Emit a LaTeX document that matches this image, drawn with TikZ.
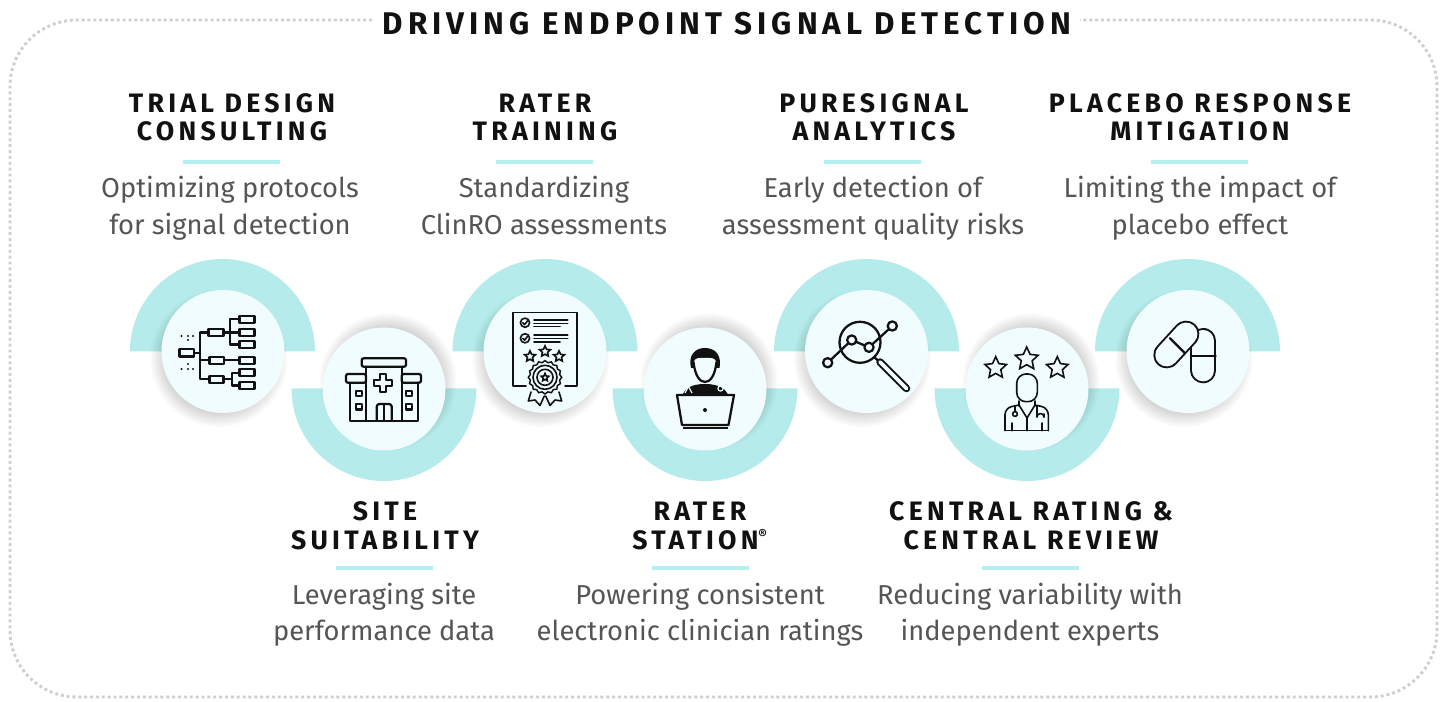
\documentclass[tikz,border=0pt]{standalone}
\usepackage{fontspec}
\usetikzlibrary{shapes.geometric}
\setmainfont{Fira Sans}
\newfontfamily\headf[LetterSpace=16]{Fira Sans}
\newfontfamily\titlef[LetterSpace=16]{Fira Sans}
\definecolor{ring}{HTML}{B5ECEB}
\definecolor{rulec}{HTML}{B5F0F0}
\definecolor{disc}{HTML}{F0FCFD}
\definecolor{bodygray}{HTML}{555555}
\definecolor{dotgray}{HTML}{CFCFCF}
\definecolor{ink}{HTML}{111111}
\tikzset{
  x=0.75pt,y=-0.75pt,
  heading/.style={font=\headf\bfseries\fontsize{20pt}{20.25pt}\selectfont,text=ink,align=center,inner sep=0pt},
  bodytext/.style={font=\fontsize{20.5pt}{27.5pt}\selectfont,text=bodygray,align=center,inner sep=0pt},
  titletext/.style={font=\titlef\bfseries\fontsize{23.5pt}{24pt}\selectfont,text=ink,inner sep=0pt},
  rulebar/.style={draw=rulec,line width=2.4pt},
  discnode/.style={circle,fill=disc,minimum size=92.25pt,inner sep=0pt},
  ico/.style={draw=ink,line width=1.7pt,line join=round,line cap=round},
  icothin/.style={draw=ink,line width=1.2pt,line join=round,line cap=round},
  starico/.style={star,star points=5,star point ratio=2.1,draw=ink,line width=1.2pt,inner sep=0pt},
  frame/.style={draw=dotgray,line width=2.2pt,dash pattern=on 2.2pt off 2.2pt}
}
\newcommand{\softshadow}[4]{%
  \foreach \r in {76,74,...,58}{\fill[black,opacity=0.018] (#1+#3,#2+#4) circle[radius=\r*0.9];}}
\newcommand{\block}[9]{% name, hx, hy, heading, rulex, rule y, bx, by, text
  \node[heading] (#1h) at (#2,#3) {#4};
  \coordinate (#1ra) at (#5-48.5,#6);
  \coordinate (#1rb) at (#5+48.5,#6);
  \draw[rulebar] (#1ra) -- (#1rb);
  \node[bodytext] (#1b) at (#7,#8) {#9};}
\begin{document}
\begin{tikzpicture}
\useasboundingbox (0,0) rectangle (1447,702);
\fill[white] (0,0) rectangle (1447,702);
% frame
\coordinate (fl) at (372,20);
\coordinate (fr) at (1080,20);
\draw[frame,rounded corners=50pt] (fl) -- (10,20) -- (10,697) -- (1437,697) -- (1437,20) -- (fr);
\node[titletext] (title) at (727,24) {DRIVING ENDPOINT SIGNAL DETECTION};
% rings
\foreach \c in {222.5,545,866.5,1187.5}{
  \fill[ring] (\c-92.5,351.5) arc[start angle=180,end angle=360,radius=92.5] -- cycle;}
\foreach \c in {384,705,1027}{
  \fill[ring] (\c-92.5,388.5) arc[start angle=180,end angle=0,radius=92.5] -- cycle;}
% discs
\foreach \c in {223,545,866.5,1188}{\softshadow{\c}{351.5}{-4}{7}}
\foreach \c in {384,705,1027}{\softshadow{\c}{389}{4}{-7}}
\node[discnode] (d1) at (223,351.5) {};
\node[discnode] (d2) at (384,389) {};
\node[discnode] (d3) at (545,351.5) {};
\node[discnode] (d4) at (705,389) {};
\node[discnode] (d5) at (866.5,351.5) {};
\node[discnode] (d6) at (1027,389) {};
\node[discnode] (d7) at (1188,351.5) {};
% text
\block{a}{232}{121}{\strut TRIAL DESIGN\\\strut CONSULTING}{231}{162}{230}{208.5}{\strut Optimizing protocols\\\strut for signal detection}
\block{b}{545}{121}{\strut RATER\\\strut TRAINING}{544}{162}{544}{208.5}{\strut Standardizing\\\strut ClinRO assessments}
\block{c}{874}{121}{\strut PURESIGNAL\\\strut ANALYTICS}{872}{162}{873}{208.5}{\strut Early detection of\\\strut assessment quality risks}
\block{d}{1200}{121}{\strut PLACEBO RESPONSE\\\strut MITIGATION}{1199}{162}{1200}{208.5}{\strut Limiting the impact of\\\strut placebo effect}
\block{e}{385}{529.5}{\strut SITE\\\strut SUITABILITY}{384}{568}{384}{615}{\strut Leveraging site\\\strut performance data}
\block{f}{700}{529.5}{\strut RATER\\\strut STATION\smash{\textsuperscript{\fontsize{10pt}{10pt}\selectfont ®}}}{700}{568}{700}{615}{\strut Powering consistent\\\strut electronic clinician ratings}
\block{g}{1031}{529.5}{\strut CENTRAL RATING \&\\\strut CENTRAL REVIEW}{1030}{568}{1030}{615}{\strut Reducing variability with\\\strut independent experts}
% icon 1: tree
\begin{scope}[ico]
\foreach \a/\b/\cc/\dd in {179.5/349/194/356.5,208.5/329/223.5/336,209.5/356.7/224/364,209.5/375.7/223.5/382.7,
  239.5/315.7/254.5/322.7,239.5/329/254.5/336,239.5/341/254.5/348.3,239.5/356.7/254.5/364,239.5/369.3/254.5/376.3,239.5/382/254.5/389.3}
  {\draw (\a,\b) rectangle (\cc,\dd);}
\draw (194,353) -- (200,353);
\draw (208.5,332.5) -- (200,332.5) -- (200,379.2) -- (209.5,379.2);
\draw (200,360.3) -- (209.5,360.3);
\draw (224,360.3) -- (239.5,360.3);
\draw (239.5,319.2) -- (230,319.2) -- (230,344.6) -- (239.5,344.6);
\draw (223.5,332.5) -- (239.5,332.5);
\draw (223.5,379.2) -- (232,379.2);
\draw (239.5,372.8) -- (232,372.8) -- (232,385.6) -- (239.5,385.6);
\end{scope}
\foreach \p/\q in {181.5/336,188/336,193/336,188/340,181.5/369,188/369,193/369,188/364}
  {\fill[ink] (\p,\q) circle[radius=1.2];}
% icon 2: hospital
\begin{scope}[ico]
\draw[rounded corners=1.5pt] (361.7,358.3) rectangle (406,366.7);
\draw[rounded corners=1.5pt] (346,374) rectangle (366,382.7);
\draw[rounded corners=1.5pt] (401.7,374) rectangle (421,382.7);
\draw (366,366.7) -- (366,420.7);
\draw (401.7,366.7) -- (401.7,420.7);
\draw (350,382.7) -- (350,420.7) -- (417.7,420.7) -- (417.7,382.7);
\foreach \u/\v in {356/390.7,356/404,406/390.7,406/404}{\draw (\u,\v) rectangle (\u+5.7,\v+5.4);}
\draw[rounded corners=2pt] (376.7,420.7) -- (376.7,404) -- (391.7,404) -- (391.7,420.7);
\draw (384,404) -- (384,420.7);
\draw (380.3,374.3) -- (386.3,374.3) -- (386.3,380.3) -- (392.3,380.3) -- (392.3,386.3) -- (386.3,386.3) -- (386.3,392.3) -- (380.3,392.3) -- (380.3,386.3) -- (374.3,386.3) -- (374.3,380.3) -- (380.3,380.3) -- cycle;
\end{scope}
% icon 3: certificate
\begin{scope}[icothin]
\draw (526,386) -- (512.7,386) -- (512.7,312.7) -- (576.7,312.7) -- (576.7,386) -- (565,386);
\draw (525,322.7) circle[radius=4.6];
\draw (525,338.3) circle[radius=4.6];
\draw (522.8,322.8) -- (524.6,324.6) -- (527.5,320.8);
\draw (522.8,338.4) -- (524.6,340.2) -- (527.5,336.4);
\foreach \yy/\xe in {320.3/567.7,323.5/567.7,326.7/560,335.3/567.7,338.7/567.7,342/560}{\draw (534,\yy) -- (\xe,\yy);}
\draw (531,392) -- (528.3,401) -- (535,400) -- (540,405.5) -- (544.3,396);
\draw (559,392) -- (561.7,401) -- (555,400) -- (550,405.5) -- (545.7,396);
\draw (545,377.3) circle[radius=12];
\draw (545,377.3) circle[radius=8];
\end{scope}
\node[starico,minimum size=8.5pt] (s1) at (530,356.5) {};
\node[starico,minimum size=8.5pt] (s2) at (545,351.5) {};
\node[starico,minimum size=8.5pt] (s3) at (559,356.5) {};
\node[starico,minimum size=6pt] (s4) at (545,377.5) {};
\node[star,star points=16,star point ratio=1.12,draw=ink,line width=1.1pt,minimum size=25pt,inner sep=0pt] (ros) at (545,377.3) {};
% icon 4: person at laptop
\fill[ink] (682,397) .. controls (684,388) and (692,384) .. (705,384) .. controls (718,384) and (726,388) .. (729,397) -- cycle;
\fill[ink] (691,368) .. controls (688,355) and (695,348) .. (705,348) .. controls (715,348) and (722,355) .. (719.5,368) -- cycle;
\fill[disc] (693.5,362) .. controls (695,376) and (700,382) .. (705,382) .. controls (710,382) and (715,376) .. (716.5,362) .. controls (714,357) and (711,358) .. (705,358) .. controls (699,358) and (696,357) .. (693.5,362) -- cycle;
\draw[ico] (693.5,362) .. controls (695,376) and (700,382) .. (705,382) .. controls (710,382) and (715,376) .. (716.5,362);
\draw[ico,fill=disc] (677,395) -- (734,395) -- (728.5,425) -- (682,425) -- cycle;
\fill[ink] (682.7,427) rectangle (728.3,429.5);
\fill[ink] (705,410) circle[radius=2];
\draw[disc,line width=0.9pt] (685,393) -- (688.5,386.5) -- (692,393);
\draw[disc,line width=0.9pt] (720.5,388.5) circle[radius=2.6];
% icon 5: magnifier
\begin{scope}[ico]
\draw (860,342.3) circle[radius=20.5];
\draw (827.7,362.7) -- (851.7,340) -- (869,347.3) -- (892.3,326);
\draw[fill=disc] (827.7,362.7) circle[radius=4.6];
\draw[fill=disc] (851.7,340) circle[radius=4.6];
\draw[fill=disc] (869,347.3) circle[radius=4.6];
\draw[fill=disc] (892.3,326) circle[radius=4.6];
\draw (874.5,357.5) -- (880,362);
\end{scope}
\coordinate (ha) at (880,362);
\coordinate (hb) at (906.5,388.5);
\draw[ink,line width=5.6pt,line cap=round] (ha) -- (hb);
\draw[disc,line width=2.8pt,line cap=round] (ha) -- (hb);
% icon 6: doctor and stars
\node[starico,minimum size=17pt] (s5) at (995.7,368) {};
\node[starico,minimum size=18pt] (s6) at (1026.7,359) {};
\node[starico,minimum size=17pt] (s7) at (1057.3,368) {};
\begin{scope}[icothin]
\draw[rounded corners=7pt] (1016.7,374) rectangle (1037.3,401.7);
\draw (1019,401) -- (1019,406);
\draw (1035,401) -- (1035,406);
\draw[rounded corners=5pt] (1019,405) -- (1005,408) -- (1005,430.7);
\draw[rounded corners=5pt] (1035,405) -- (1048.3,408) -- (1048.3,430.7);
\draw (1005,430.7) -- (1048.3,430.7);
\draw (1019,405) -- (1027,418) -- (1035,405);
\draw (1027,418) -- (1027,430.7);
\draw (1015,406) -- (1015,411.5);
\draw (1015,414) circle[radius=2.4];
\draw (1037,406) -- (1037,417);
\draw (1037,417) arc[start angle=180,end angle=360,radius=3.5];
\draw (1044,417) -- (1044,414);
\draw (1011.7,423) -- (1011.7,430.7);
\draw (1041.7,423) -- (1041.7,430.7);
\end{scope}
% icon 7: pills
\coordinate (pa) at (1203.4,341);
\coordinate (pb) at (1203.4,370.3);
\coordinate (pc) at (1186,334);
\coordinate (pd) at (1166.7,355);
\draw[ink,line width=19.5pt,line cap=round] (pa) -- (pb);
\draw[disc,line width=16.6pt,line cap=round] (pa) -- (pb);
\draw[ico] (1191,356) -- (1215.7,356);
\draw[ink,line width=20pt,line cap=round] (pc) -- (pd);
\draw[disc,line width=17.1pt,line cap=round] (pc) -- (pd);
\draw[ico] (1170,338.3) -- (1185,353.3);
\end{tikzpicture}
\end{document}
